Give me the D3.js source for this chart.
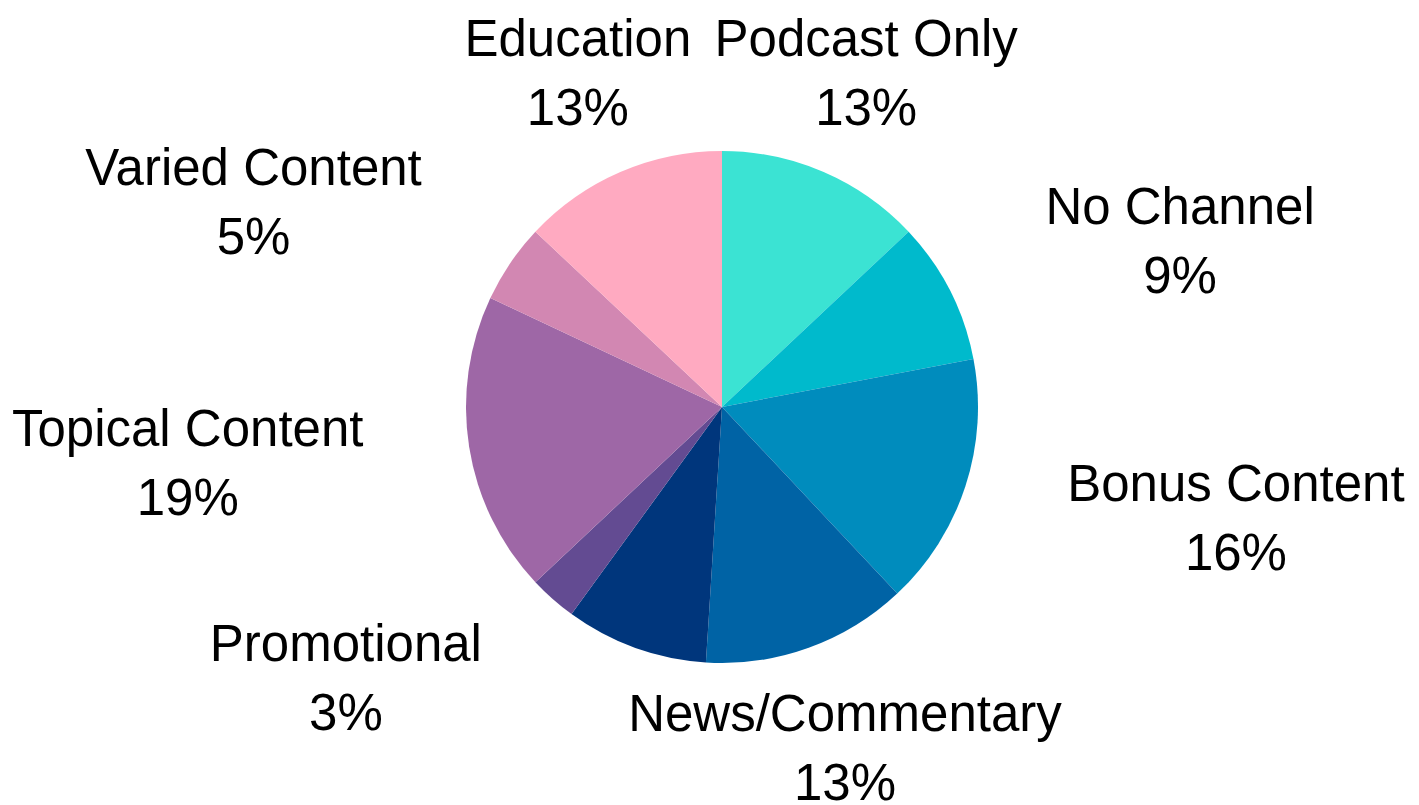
<!DOCTYPE html>
<html>
<head>
<meta charset="utf-8">
<script src="https://cdn.jsdelivr.net/npm/d3@7"></script>
<style>
  html, body { margin: 0; padding: 0; background: #fff; }
  svg { display: block; }
  text { font-family: "Liberation Sans", Arial, sans-serif; fill: #000; }
</style>
</head>
<body>
<svg id="chart" width="1419" height="805"></svg>
<script>
// Channel content categories, clockwise from 12 o'clock
const categories = ["Podcast Only", "No Channel", "Bonus Content", "News/Commentary", "",
                    "Promotional", "Topical Content", "Varied Content", "Education"];
const shares = [13, 9, 16, 13, 9, 3, 19, 5, 13];
const colors = ["#3be3d3", "#00bacc", "#008cbd", "#0063a5", "#00367c",
                "#634b92", "#9e67a6", "#d287b2", "#ffaac1"];

const width = 1419, height = 805;
const cx = 722, cy = 407, radius = 256;
const labelRadius = 363;
const fontSize = 51, lineGap = 69;

const svg = d3.select("#chart");
const g = svg.append("g").attr("transform", `translate(${cx},${cy})`);

const data = categories.map((c, i) => ({ name: c, value: shares[i], color: colors[i] }));
const total = d3.sum(shares);

const pie = d3.pie().value(d => d.value).sort(null);
const arc = d3.arc().innerRadius(0).outerRadius(radius);
const arcs = pie(data);

g.selectAll("path.slice")
  .data(arcs)
  .join("path")
  .attr("class", "slice")
  .attr("d", arc)
  .attr("fill", d => d.data.color);

// Two-line labels: name on top, percentage below
const fmt = v => Math.round(v / total * 100) + "%";

arcs.filter(d => d.data.name).forEach(d => {
  const mid = (d.startAngle + d.endAngle) / 2;
  const s = Math.sin(mid), c = Math.cos(mid);
  const ax = labelRadius * s, ay = -labelRadius * c;

  const lg = g.append("g");
  const t1 = lg.append("text").attr("font-size", fontSize).attr("text-anchor", "middle")
    .attr("y", ay - 18).text(d.data.name);
  const t2 = lg.append("text").attr("font-size", fontSize).attr("text-anchor", "middle")
    .attr("y", ay - 18 + lineGap).text(fmt(d.data.value));

  // Side labels hug the pie with their near edge; top/bottom labels stay centred
  const w = Math.max(t1.node().getComputedTextLength(), t2.node().getComputedTextLength());
  let x = ax;
  if (Math.abs(s) >= 0.5) x = ax + Math.sign(s) * w / 2;
  t1.attr("x", x);
  t2.attr("x", x);
});
</script>
</body>
</html>
